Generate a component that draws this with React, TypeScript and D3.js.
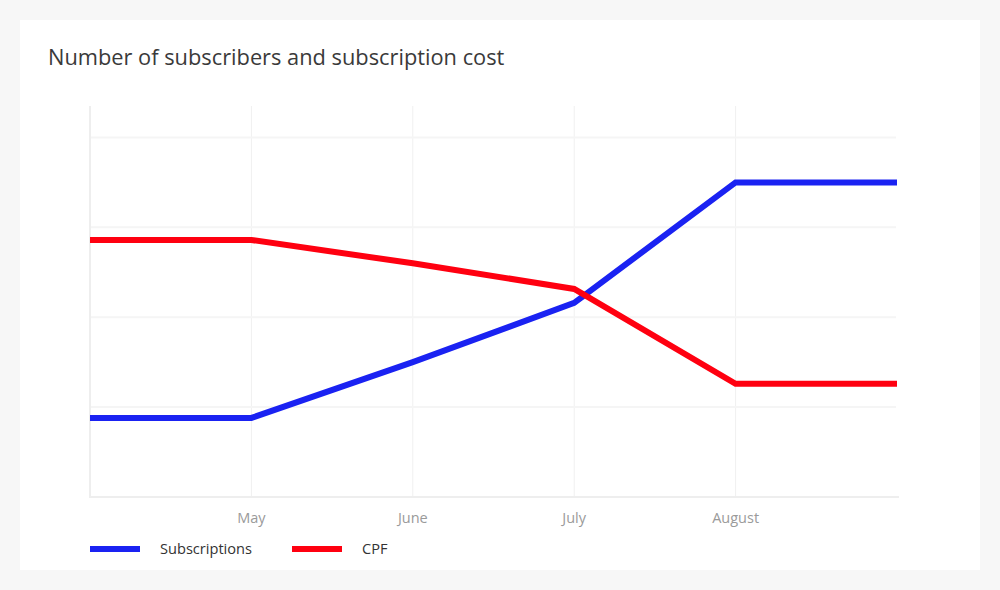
import * as d3 from "d3";

// months along the x axis; only the inner four carry a label
const months = ["April", "May", "June", "July", "August", "September"];
const tickLabels = ["", "May", "June", "July", "August", ""];

// series values
const subscriptions = [17.6, 17.6, 30, 43.2, 70, 70];
const cpf = [57.2, 57.2, 52, 46.3, 25.2, 25.2];

const yTicks = [0, 20, 40, 60, 80];

const seriesNames = ["Subscriptions", "CPF"];
const seriesColors = ["#1a22f2", "#ff0010"];

const App = () => {
    const width = 1000;
    const height = 590;
    const margin = { left: 90, right: 103, top: 106, bottom: 93 };

    const xScale = d3
        .scalePoint()
        .domain(months)
        .range([margin.left, width - margin.right]);

    const yScale = d3
        .scaleLinear()
        .domain([0, 87])
        .range([height - margin.bottom, margin.top]);

    const lineGenerator = (values) =>
        d3
            .line()
            .x((d, i) => xScale(months[i]))
            .y((d) => yScale(d))(values);

    const series = [subscriptions, cpf];
    const font = "'Open Sans', Lato, sans-serif";
    const lastX = xScale(months[months.length - 1]);

    return (
        <svg
            width={width}
            height={height}
            style={{ position: "absolute", left: 0, top: 0 }}
        >
            <rect width={width} height={height} fill="#f7f7f7" />
            <rect x={20} y={20} width={960} height={550} fill="#ffffff" />
            <text
                x={48}
                y={65}
                fontFamily={font}
                fontSize={21.8}
                fill="#3a3a3a"
            >
                Number of subscribers and subscription cost
            </text>

            {/* vertical grid (none at the last point) */}
            {months.slice(1, -1).map((m) => (
                <line
                    key={m}
                    x1={xScale(m)}
                    x2={xScale(m)}
                    y1={margin.top}
                    y2={yScale(0)}
                    stroke="#f0f0f0"
                    strokeWidth={1}
                />
            ))}
            {/* horizontal grid */}
            {yTicks.slice(1).map((t) => (
                <line
                    key={t}
                    x1={margin.left}
                    x2={lastX - 1}
                    y1={yScale(t)}
                    y2={yScale(t)}
                    stroke="#f5f5f5"
                    strokeWidth={2}
                />
            ))}
            {/* axes */}
            <line
                x1={margin.left}
                x2={margin.left}
                y1={margin.top}
                y2={yScale(0)}
                stroke="#eeeeee"
                strokeWidth={2}
            />
            <line
                x1={margin.left - 1}
                x2={lastX + 2}
                y1={yScale(0)}
                y2={yScale(0)}
                stroke="#eeeeee"
                strokeWidth={2}
            />
            {months.map((m, i) => (
                <text
                    key={m}
                    x={xScale(m)}
                    y={523}
                    textAnchor="middle"
                    fontFamily={font}
                    fontSize={14.5}
                    fill="#9a9a9a"
                >
                    {tickLabels[i]}
                </text>
            ))}

            {series.map((values, i) => (
                <path
                    key={seriesNames[i]}
                    d={lineGenerator(values)}
                    stroke={seriesColors[i]}
                    strokeWidth={6}
                    fill="none"
                    strokeLinejoin="miter"
                />
            ))}

            {/* legend */}
            {seriesNames.map((name, i) => {
                const lx = 90 + i * 202;
                return (
                    <g key={name}>
                        <line
                            x1={lx}
                            x2={lx + 50}
                            y1={549}
                            y2={549}
                            stroke={seriesColors[i]}
                            strokeWidth={6}
                        />
                        <text
                            x={lx + 70}
                            y={554}
                            fontFamily={font}
                            fontSize={14.6}
                            fill="#333333"
                        >
                            {name}
                        </text>
                    </g>
                );
            })}
        </svg>
    );
};

export default App;
